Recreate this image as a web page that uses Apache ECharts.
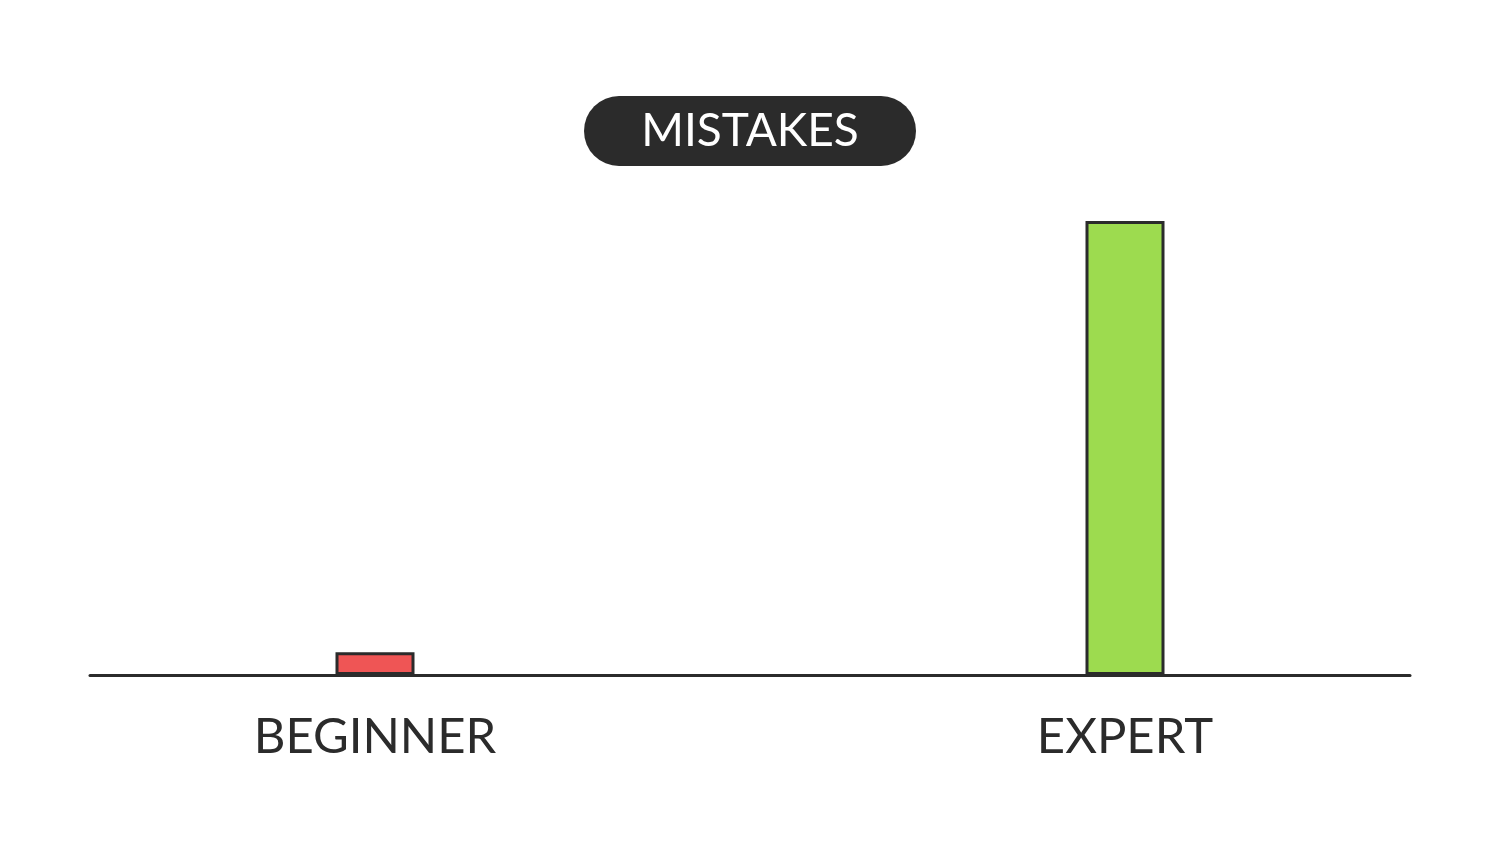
<!DOCTYPE html>
<html>
<head>
<meta charset="utf-8">
<script src="https://cdn.jsdelivr.net/npm/echarts@6/dist/echarts.min.js"></script>
<style>html,body{margin:0;padding:0;background:#fff;}#c{width:1500px;height:844px;}</style>
</head>
<body>
<div id="c"></div>
<script>
const categories = ['BEGINNER', 'EXPERT'];
const mistakes = [5, 100];
const barColors = ['#ef5555', '#9ddb4f'];
const titleText = 'MISTAKES';

const chart = echarts.init(document.getElementById('c'));
const ink = '#2b2b2b';
chart.setOption({
  backgroundColor: '#ffffff',
  animation: false,
  title: {
    text: '{a|' + titleText + '}',
    left: 'center',
    top: 96,
    padding: 0,
    textStyle: {
      rich: {
        a: {
          width: 332, height: 70, lineHeight: 70, align: 'center',
          backgroundColor: ink, borderRadius: 35,
          color: '#ffffff', fontSize: 46, fontWeight: 'normal', fontFamily: 'Lato'
        }
      }
    }
  },
  grid: [
    { left: 0, right: 0, top: 221, bottom: 169 },
    { left: 90, right: 90, top: 221, bottom: 169 }
  ],
  xAxis: [
    {
      type: 'category', gridIndex: 0, data: categories,
      axisLine: { show: false }, axisTick: { show: false },
      axisLabel: { color: ink, fontSize: 49, fontFamily: 'Lato', margin: 38 }
    },
    {
      type: 'category', gridIndex: 1, data: categories,
      axisLine: { show: true, lineStyle: { color: ink, width: 3 } },
      axisTick: { show: false }, axisLabel: { show: false }
    }
  ],
  yAxis: [
    { type: 'value', gridIndex: 0, min: 0, max: 100, show: false, splitLine: { show: false } },
    { type: 'value', gridIndex: 1, min: 0, max: 100, show: false, splitLine: { show: false } }
  ],
  series: [{
    type: 'bar',
    xAxisIndex: 0, yAxisIndex: 0,
    barWidth: 79,
    z: 1,
    data: mistakes.map((v, i) => ({
      value: v,
      itemStyle: { color: barColors[i], borderColor: ink, borderWidth: 3 }
    }))
  }]
});
</script>
</body>
</html>
